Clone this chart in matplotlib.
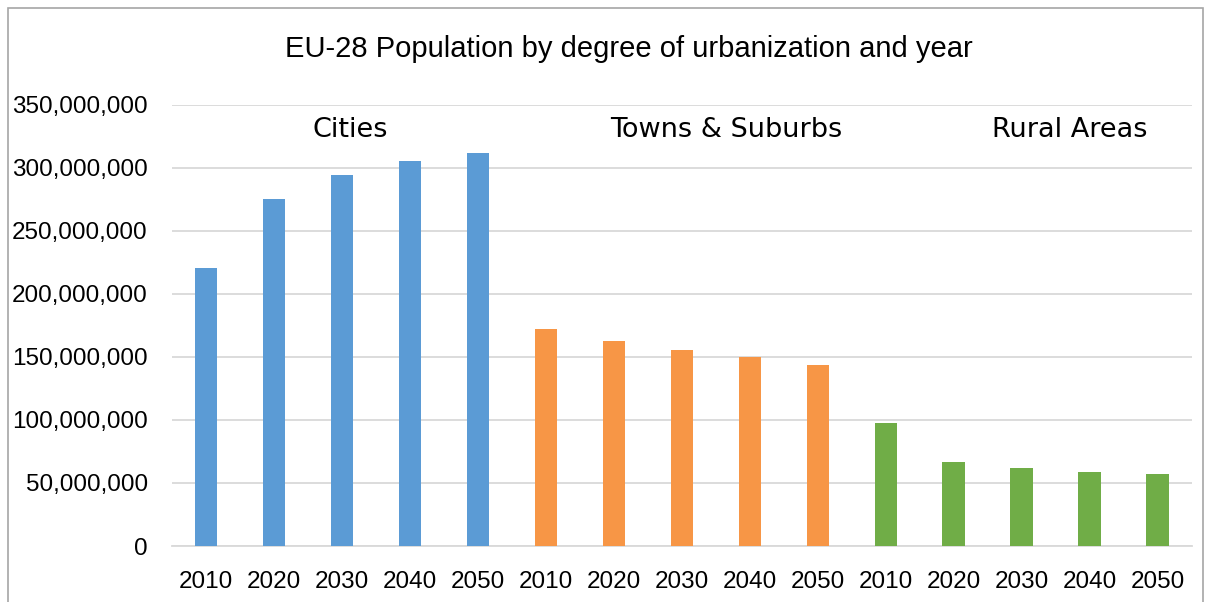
import numpy as np
import matplotlib.pyplot as plt
from matplotlib.ticker import FuncFormatter
from matplotlib.patches import Rectangle

# Population per degree of urbanization
years = ["2010", "2020", "2030", "2040", "2050"]
groups = ["Cities", "Towns & Suburbs", "Rural Areas"]
cities = [220.6e6, 275.4e6, 294.4e6, 305.6e6, 311.9e6]
towns = [172.2e6, 162.7e6, 155.6e6, 150.0e6, 143.7e6]
rural = [97.6e6, 66.7e6, 61.9e6, 58.7e6, 57.1e6]
colors = ["#5B9BD5", "#F79646", "#70AD47"]

plt.rcParams['font.family'] = ['Liberation Sans', 'DejaVu Sans']

fig = plt.figure(figsize=(12.11, 6.02), dpi=100)
ax = fig.add_axes([0.142, 0.093, 0.842, 0.733])

# outer chart frame
fig.patches.append(Rectangle((0.0066, -0.01), 0.9868, 0.997, transform=fig.transFigure,
                             fill=False, edgecolor="#a6a6a6", linewidth=1.2))

series = [cities, towns, rural]
labels = []
for g, (vals, col) in enumerate(zip(series, colors)):
    x = np.arange(len(vals)) + g * len(years)
    ax.bar(x, vals, width=0.33, color=col, zorder=3)
    labels += years

ax.set_xlim(-0.5, len(labels) - 0.5)
ax.set_ylim(0, 350e6)
ax.set_yticks(np.arange(0, 350e6 + 1, 50e6))
ax.yaxis.set_major_formatter(FuncFormatter(lambda v, p: f"{int(v):,}"))
ax.set_xticks(np.arange(len(labels)))
ax.set_xticklabels(labels)
ax.tick_params(axis="both", length=0, labelsize=17.5, colors="black")
ax.tick_params(axis="x", pad=18)
ax.tick_params(axis="y", pad=17.5)
ax.grid(axis="y", color="#d9d9d9", linewidth=1.3, zorder=0)
for s in ["top", "right", "left"]:
    ax.spines[s].set_visible(False)
ax.spines["bottom"].set_color("#d9d9d9")
ax.spines["bottom"].set_linewidth(1.3)

# group labels inside the plot
for g, name in zip([2.12, 7.66, 12.7], groups):
    ax.text(g, 330e6, name, ha="center", va="center", fontsize=19.5,
            family="DejaVu Sans")

fig.text(0.519, 0.918, "EU-28 Population by degree of urbanization and year",
         ha="center", va="center", fontsize=21)

fig.savefig("out.png", dpi=100)
